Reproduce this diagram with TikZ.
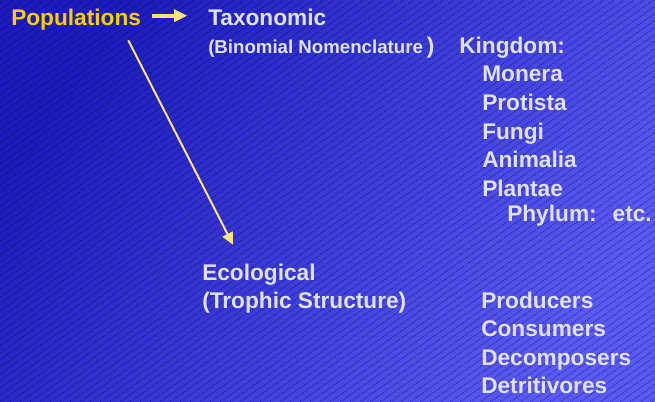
\documentclass[tikz,border=0pt]{standalone}
\usepackage{fontspec}
\setmainfont{Liberation Sans}
\usepackage{xcolor}
\usepackage{tikz}
\usetikzlibrary{positioning, arrows.meta}

\definecolor{bgdark}{HTML}{1C1CBE}
\definecolor{bglight}{HTML}{5A5AF2}
\definecolor{lavtext}{HTML}{E0E0FF}
\definecolor{popgold}{HTML}{FFCC00}
\definecolor{arrowyel}{HTML}{FFE27A}

\begin{document}
\begin{tikzpicture}[
  x=0.75pt, y=-0.75pt,
  node distance=5.5pt,
  font=\fontsize{17}{20}\selectfont\bfseries,
  label/.style={text=lavtext, inner sep=0pt, text height=12pt, text depth=3.5pt,
                anchor=base west},
  entry/.style={label},
  small/.style={label, font=\fontsize{14}{17}\selectfont\bfseries},
  title/.style={label, text=popgold},
  stripe/.style={draw=black!70!blue, opacity=0.55, line width=0.5pt,
                 dash pattern=on 1pt off 0.7pt},
  arr/.style={-{Triangle[length=10pt, width=9pt]}, draw=arrowyel, fill=arrowyel,
              line width=3pt},
  thinarr/.style={-{Triangle[length=9pt, width=8.5pt]}, draw=arrowyel,
                  fill=arrowyel, line width=1.5pt}
]
% background
\shade[top color=bgdark, bottom color=bglight, shading angle=55] (0,0) rectangle (655,402);
\begin{scope}
  \clip (0,0) rectangle (655,402);
  \foreach \k in {-58,...,66}
    \draw[stripe] (\k*10,402) -- ++(574,-402);
\end{scope}
\useasboundingbox (0,0) rectangle (655,402);

% headings
\node[title] (pop) at (11,26) {Populations};
\node[label] (tax) at (208,26) {Taxonomic};
\node[small] (binom) at (208,54) {(Binomial Nomenclature{\fontsize{17}{20}\selectfont\,)}};
\node[label] (eco) at (202,280) {Ecological};
\node[entry, below=of eco.south west, anchor=north west] (trophic) {(Trophic Structure)};

% kingdoms
\node[entry] (kingdom) at (459,54) {Kingdom:};
\node[entry] (monera) at (482,82) {Monera};
\node[entry, below=of monera.south west, anchor=north west] (protista) {Protista};
\node[entry, below=of protista.south west, anchor=north west] (fungi) {Fungi};
\node[entry, below=of fungi.south west, anchor=north west] (animalia) {Animalia};
\node[entry, below=of animalia.south west, anchor=north west] (plantae) {Plantae};
\node[entry] (phylum) at (507,222) {Phylum:\hspace{12pt}etc.};

% trophic levels
\node[entry] (producers) at (481,308) {Producers};
\node[entry, below=of producers.south west, anchor=north west] (consumers) {Consumers};
\node[entry, below=of consumers.south west, anchor=north west] (decomp) {Decomposers};
\node[entry, below=of decomp.south west, anchor=north west] (detrit) {Detritivores};

% arrows
\draw[arr] ([yshift=3.5pt]pop.east) -- ([yshift=3.5pt]tax.west)
  [shorten <=8pt, shorten >=15.5pt];
\draw[thinarr] ([xshift=-9.75pt, yshift=-7pt]pop.south east)
  -- ([xshift=23.25pt, yshift=14.25pt]eco.north west);
\end{tikzpicture}
\end{document}
